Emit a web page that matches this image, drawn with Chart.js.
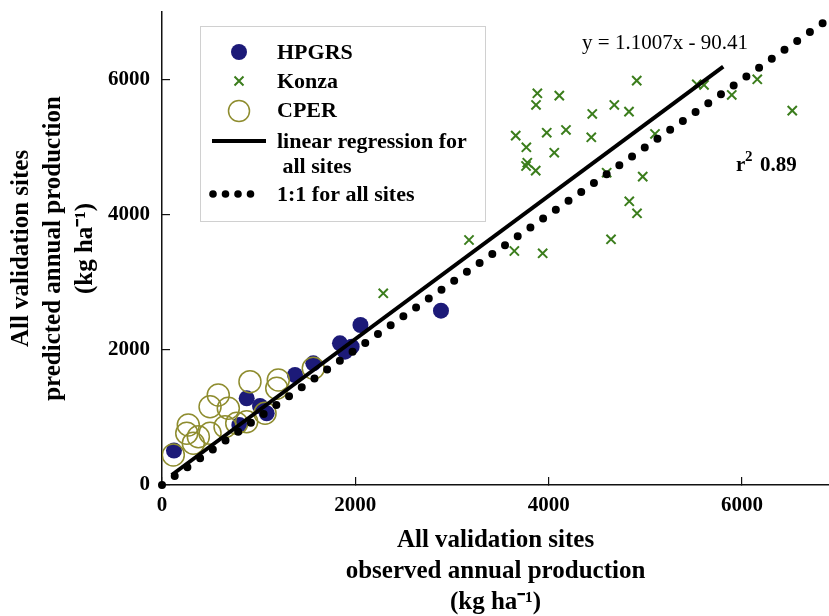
<!DOCTYPE html>
<html>
<head>
<meta charset="utf-8">
<script src="https://cdn.jsdelivr.net/npm/chart.js@4.4.0/dist/chart.umd.min.js"></script>
<style>
  body { margin: 0; background: #fff; }
  #wrap { width: 829px; height: 616px; position: relative; }
</style>
</head>
<body>
<div id="wrap"><canvas id="chart"></canvas></div>
<script>
// observed vs predicted annual production (kg ha-1)
var hpgrsObs  = [124, 800, 876, 1014, 1083, 1376, 1565, 1841, 1893, 1962, 2053, 2886];
var hpgrsPred = [511, 888, 1283, 1169, 1061, 1628, 1801, 2097, 1973, 2047, 2368, 2580];

var konzaObs  = [4911, 5532, 5607, 5894, 6158, 6520, 3883, 3869, 4110, 4451, 4679, 4831, 3659, 3769, 3980, 4179,
                 4441, 4058, 3779, 3766, 3866, 5100, 4600, 4973, 4834, 4914, 4645, 3176, 3645, 3938, 2289];
var konzaPred = [5984, 5930, 5920, 5772, 6004, 5540, 5797, 5624, 5762, 5491, 5624, 5525, 5170, 4998, 5214, 5254,
                 5146, 4918, 4770, 4721, 4652, 5195, 4622, 4563, 4199, 4021, 3636, 3626, 3463, 3429, 2837];

var cperObs  = [117, 272, 256, 324, 376, 497, 497, 582, 686, 652, 773, 876, 910, 1203, 1187, 1066, 1565];
var cperPred = [444, 888, 765, 617, 715, 765, 1159, 1332, 1135, 863, 913, 937, 1529, 1554, 1431, 1061, 1727];

var regressionX = [100, 5806];
var regressionY = [148, 6191];
var oneToOne = [0, 6850];

var xTicks = [0, 2000, 4000, 6000];
var yTicks = [0, 2000, 4000, 6000];

var legendLabels = ["HPGRS", "Konza", "CPER", ["linear regression for", " all sites"], "1:1 for all sites"];
var equationText = "y = 1.1007x - 90.41";
var r2Value = "0.89";

var navy = "#1c1a78";
var green = "#3b7d1c";
var olive = "#8e8c2e";
var serif = "'Liberation Serif', 'Times New Roman', serif";

function pts(xs, ys) {
  return xs.map((x, i) => ({ x: x, y: ys[i] }));
}

// drop the extra room chart.js keeps for edge tick labels
function noPad(s) {
  s.paddingTop = 0; s.paddingBottom = 0;
  s.paddingLeft = 0; s.paddingRight = 0;
}

// legend box, equation and r2 drawn on top of the plot
const overlay = {
  id: "overlay",
  afterDraw(chart) {
    const ctx = chart.ctx;
    ctx.save();
    // legend frame
    ctx.fillStyle = "#fff";
    ctx.fillRect(200, 26, 285, 195);
    ctx.strokeStyle = "#d0d0d0";
    ctx.lineWidth = 1;
    ctx.strokeRect(200.5, 26.5, 285, 195);

    // markers
    ctx.fillStyle = navy;
    ctx.beginPath(); ctx.arc(239, 52, 8, 0, Math.PI * 2); ctx.fill();

    ctx.strokeStyle = green; ctx.lineWidth = 2;
    ctx.beginPath();
    ctx.moveTo(234.5, 76.5); ctx.lineTo(243.5, 85.5);
    ctx.moveTo(243.5, 76.5); ctx.lineTo(234.5, 85.5);
    ctx.stroke();

    ctx.strokeStyle = olive; ctx.lineWidth = 1.5;
    ctx.beginPath(); ctx.arc(239, 111, 10.5, 0, Math.PI * 2); ctx.stroke();

    ctx.strokeStyle = "#000"; ctx.lineWidth = 4;
    ctx.beginPath(); ctx.moveTo(212, 141); ctx.lineTo(266, 141); ctx.stroke();

    ctx.fillStyle = "#000";
    [213, 225.5, 238, 250.5].forEach(x => {
      ctx.beginPath(); ctx.arc(x, 194, 3.8, 0, Math.PI * 2); ctx.fill();
    });

    // legend text
    ctx.fillStyle = "#000";
    ctx.textBaseline = "middle";
    ctx.textAlign = "left";
    ctx.font = "bold 22px " + serif;
    ctx.fillText(legendLabels[0], 277, 53);
    ctx.fillText(legendLabels[1], 277, 82);
    ctx.fillText(legendLabels[2], 277, 111);
    ctx.fillText(legendLabels[3][0], 277, 142);
    ctx.fillText(legendLabels[3][1], 277, 167);
    ctx.fillText(legendLabels[4], 277, 195);

    // regression equation
    ctx.font = "21px " + serif;
    ctx.textAlign = "center";
    ctx.fillText(equationText, 665, 43);

    // r squared
    ctx.textAlign = "left";
    ctx.textBaseline = "alphabetic";
    ctx.font = "bold 21px " + serif;
    ctx.fillText("r", 736, 171);
    ctx.font = "bold 15px " + serif;
    ctx.fillText("2", 745, 161);
    ctx.font = "bold 21px " + serif;
    ctx.fillText(r2Value, 760, 171);
    ctx.restore();
  }
};

new Chart(document.getElementById("chart"), {
  type: "scatter",
  data: {
    datasets: [
      {
        label: "linear regression for all sites",
        data: pts(regressionX, regressionY),
        showLine: true,
        borderColor: "#000",
        borderWidth: 4,
        pointRadius: 0,
        clip: false,
        order: 0
      },
      {
        label: "1:1 for all sites",
        data: pts(oneToOne, oneToOne),
        showLine: true,
        borderColor: "#000",
        borderWidth: 8,
        borderDash: [0, 15.5],
        borderCapStyle: "round",
        pointRadius: 0,
        clip: false,
        order: 0
      },
      {
        label: "Konza",
        data: pts(konzaObs, konzaPred),
        pointStyle: "crossRot",
        pointRadius: 6.5,
        pointBorderWidth: 2,
        borderColor: green,
        backgroundColor: green,
        order: 1
      },
      {
        label: "CPER",
        data: pts(cperObs, cperPred),
        pointStyle: "circle",
        pointRadius: 11,
        pointBorderWidth: 1.5,
        borderColor: olive,
        backgroundColor: "rgba(0,0,0,0)",
        order: 2
      },
      {
        label: "HPGRS",
        data: pts(hpgrsObs, hpgrsPred),
        pointStyle: "circle",
        pointRadius: 8,
        pointBorderWidth: 0,
        borderColor: navy,
        backgroundColor: navy,
        order: 3
      }
    ]
  },
  options: {
    responsive: true,
    maintainAspectRatio: false,
    animation: false,
    layout: { autoPadding: false, padding: { top: 12, right: 0, left: 0, bottom: 0 } },
    plugins: {
      legend: { display: false },
      tooltip: { enabled: false }
    },
    scales: {
      x: {
        type: "linear",
        min: 0,
        max: 6900,
        afterBuildTicks: s => { s.ticks = xTicks.map(v => ({ value: v })); },
        afterFit: s => { s.height = 131; noPad(s); },
        border: { display: true, color: "#111", width: 1.5 },
        grid: { drawOnChartArea: false, drawTicks: true, tickLength: -8, color: "#111", lineWidth: 1.2 },
        ticks: {
          color: "#000",
          padding: 16,
          maxRotation: 0,
          callback: v => String(v),
          font: { family: serif, size: 21, weight: "bold" }
        },
        title: {
          display: true,
          text: ["All validation sites", "observed annual production", "(kg ha\u207B\u00B9)"],
          color: "#000",
          padding: { top: 0, bottom: -2 },
          font: { family: serif, size: 25, weight: "bold", lineHeight: "31px" }
        }
      },
      y: {
        type: "linear",
        min: 0,
        max: 7000,
        afterBuildTicks: s => { s.ticks = yTicks.map(v => ({ value: v })); },
        afterFit: s => { s.width = 162; noPad(s); },
        border: { display: true, color: "#111", width: 1.5 },
        grid: { drawOnChartArea: false, drawTicks: true, tickLength: -8, color: "#111", lineWidth: 1.2 },
        ticks: {
          color: "#000",
          padding: 20,
          callback: v => String(v),
          font: { family: serif, size: 21, weight: "bold" }
        },
        title: {
          display: true,
          text: ["All validation sites", "predicted annual production", "(kg ha\u207B\u00B9)"],
          color: "#000",
          padding: { top: 6, bottom: 0 },
          font: { family: serif, size: 25, weight: "bold", lineHeight: "32px" }
        }
      }
    }
  },
  plugins: [overlay]
});
</script>
</body>
</html>
